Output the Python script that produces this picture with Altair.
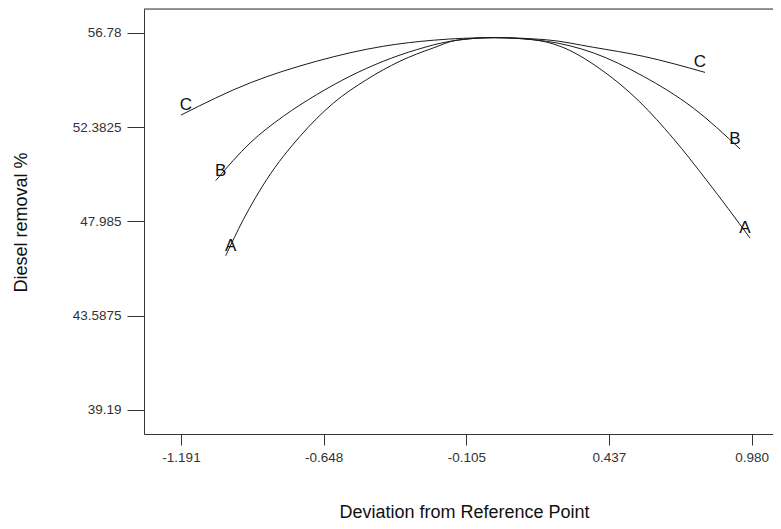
import altair as alt
import pandas as pd

# ---- data ----
a_dev = [-1.021, -0.954, -0.865, -0.738, -0.611, -0.485, -0.358, -0.231, -0.142, 0.0, 0.15, 0.251, 0.403, 0.555, 0.682, 0.809, 0.974]
a_val = [46.38, 48.06, 49.93, 51.95, 53.50, 54.59, 55.45, 56.07, 56.43, 56.55, 56.45, 56.15, 55.10, 53.55, 51.85, 49.90, 47.21]

b_dev = [-1.059, -0.928, -0.802, -0.675, -0.548, -0.421, -0.294, -0.167, 0.0, 0.2, 0.378, 0.568, 0.758, 0.936]
b_val = [49.88, 51.64, 52.88, 53.89, 54.75, 55.45, 55.99, 56.38, 56.55, 56.38, 55.84, 54.75, 53.27, 51.36]

c_dev = [-1.191, -0.928, -0.675, -0.421, -0.231, 0.0, 0.2, 0.378, 0.568, 0.803]
c_val = [52.94, 54.44, 55.45, 56.15, 56.43, 56.55, 56.45, 56.10, 55.68, 54.93]

factors = ["A", "B", "C"]

x_tick_values = [-1.191, -0.648, -0.105, 0.437, 0.980]
x_tick_labels = ["-1.191", "-0.648", "-0.105", "0.437", "0.980"]
y_tick_values = [39.19, 43.5875, 47.985, 52.3825, 56.78]
y_tick_labels = ["39.19", "43.5875", "47.985", "52.3825", "56.78"]

x_title = "Deviation from Reference Point"
y_title = "Diesel removal %"

# ---- build tables ----
series = {"A": (a_dev, a_val), "B": (b_dev, b_val), "C": (c_dev, c_val)}
rows = []
for f in factors:
    d, v = series[f]
    for i, (xx, yy) in enumerate(zip(d, v)):
        rows.append({"factor": f, "dev": xx, "val": yy, "order": i})
df = pd.DataFrame(rows)

left_ends = pd.DataFrame([{"factor": f, "dev": series[f][0][0], "val": series[f][1][0]} for f in factors])
right_ends = pd.DataFrame([{"factor": f, "dev": series[f][0][-1], "val": series[f][1][-1]} for f in factors])


def label_expr(values, labels):
    expr = "''"
    for v, l in zip(values, labels):
        expr = f"abs(datum.value - ({v})) < 1e-6 ? '{l}' : ({expr})"
    return expr


W, H = 629, 425
FONT = "Liberation Sans"

x_scale = alt.Scale(domain=[-1.3318, 1.0617], nice=False, zero=False)
y_scale = alt.Scale(domain=[38.065, 57.886], nice=False, zero=False)

x_axis = alt.Axis(
    values=x_tick_values,
    labelExpr=label_expr(x_tick_values, x_tick_labels),
    title=x_title,
    grid=False,
    tickSize=11,
    labelPadding=5,
    labelFontSize=13.5,
    labelFont=FONT,
    labelColor="#333333",
    tickColor="#333333",
    domainColor="#333333",
    titleFont=FONT,
    titleFontSize=18,
    titleFontWeight="normal",
    titleColor="#111111",
    titleX=320,
    titleY=83,
    titleAlign="center",
    titleBaseline="alphabetic",
)

y_axis = alt.Axis(
    values=y_tick_values,
    labelExpr=label_expr(y_tick_values, y_tick_labels),
    title=y_title,
    grid=False,
    tickSize=17,
    labelPadding=6,
    labelFontSize=13.5,
    labelFont=FONT,
    labelColor="#333333",
    tickColor="#333333",
    domainColor="#333333",
    titleFont=FONT,
    titleFontSize=18,
    titleFontWeight="normal",
    titleColor="#111111",
    titleX=-118,
    titleY=213,
    titleAngle=-90,
    titleAlign="center",
    titleBaseline="alphabetic",
)

lines = alt.Chart(df).mark_line(
    color="#1a1a1a", strokeWidth=1, interpolate="monotone"
).encode(
    x=alt.X("dev:Q", scale=x_scale, axis=x_axis),
    y=alt.Y("val:Q", scale=y_scale, axis=y_axis),
    detail="factor:N",
    order="order:Q",
)

left_text = alt.Chart(left_ends).mark_text(
    font=FONT, fontSize=17, color="#111111", dx=5, dy=-10, align="center", baseline="middle"
).encode(
    x=alt.X("dev:Q", scale=x_scale),
    y=alt.Y("val:Q", scale=y_scale),
    text="factor:N",
)

right_text = alt.Chart(right_ends).mark_text(
    font=FONT, fontSize=17, color="#111111", dx=-5, dy=-10, align="center", baseline="middle"
).encode(
    x=alt.X("dev:Q", scale=x_scale),
    y=alt.Y("val:Q", scale=y_scale),
    text="factor:N",
)

top_frame = alt.Chart(pd.DataFrame({"k": [0]})).mark_rule(
    color="#333333", strokeWidth=1
).encode(
    x=alt.value(0), x2=alt.value(W), y=alt.value(0)
)

chart = alt.layer(top_frame, lines, left_text, right_text).properties(
    width=W,
    height=H,
    autosize=alt.AutoSizeParams(type="none"),
    padding={"left": 136, "top": 1, "right": 0, "bottom": 87},
).configure_view(stroke=None).configure(background="white")

chart.save("out.html", embed_options={"renderer": "svg", "actions": False})
